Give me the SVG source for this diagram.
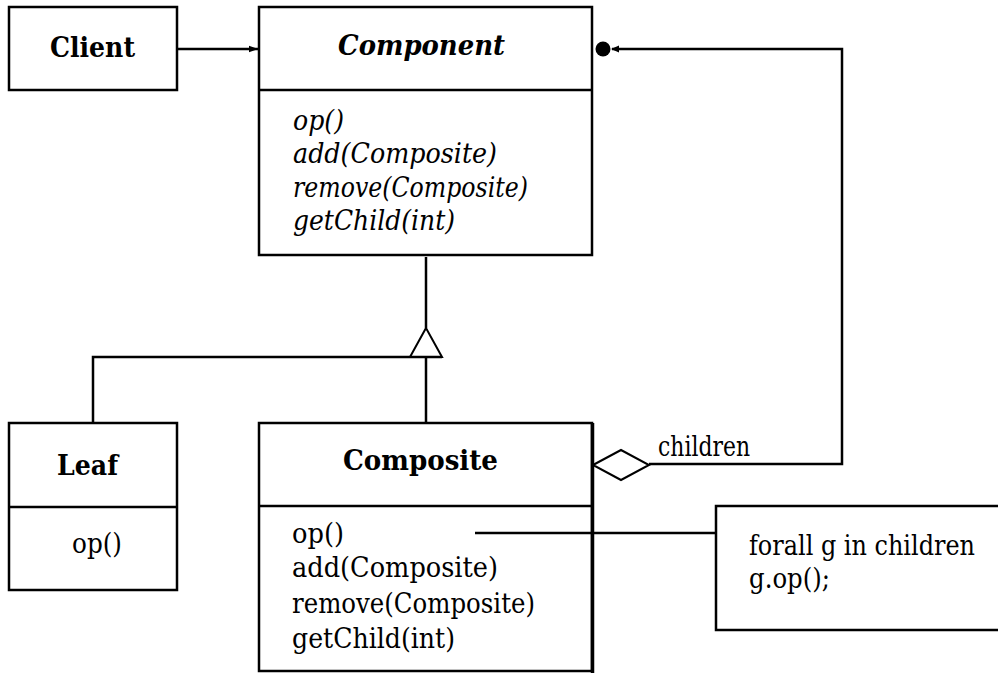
<svg xmlns="http://www.w3.org/2000/svg" width="998" height="673" viewBox="0 0 998 673">
  <style>
    .box { fill: #fff; stroke: #000; stroke-width: 2.5; }
    .div { stroke: #000; stroke-width: 2.5; }
    .ln { fill: none; stroke: #000; stroke-width: 2.5; }
    .t { font-family: 'DejaVu Serif', 'Liberation Serif', serif; font-size: 27px; fill: #000; }
    .b { font-weight: bold; }
    .i { font-style: italic; }
  </style>
  <defs>
    <marker id="arrow" markerUnits="userSpaceOnUse" markerWidth="10" markerHeight="8" refX="9" refY="4" orient="auto">
      <path d="M0,0.8 L9,4 L0,7.2 Z" fill="#000"/>
    </marker>
  </defs>

  <g id="client">
    <rect class="box" x="9" y="7" width="168" height="83"/>
    <text class="t b" x="50" y="57" textLength="85" lengthAdjust="spacingAndGlyphs">Client</text>
  </g>

  <g id="component">
    <rect class="box" x="259" y="7" width="333" height="248"/>
    <line class="div" x1="259" y1="90" x2="592" y2="90"/>
    <text class="t b i" x="338" y="55" textLength="167" lengthAdjust="spacingAndGlyphs">Component</text>
    <text class="t i" x="293" y="130" textLength="51" lengthAdjust="spacingAndGlyphs">op()</text>
    <text class="t i" x="293" y="163" textLength="204" lengthAdjust="spacingAndGlyphs">add(Composite)</text>
    <text class="t i" x="293" y="196.5" textLength="235" lengthAdjust="spacingAndGlyphs">remove(Composite)</text>
    <text class="t i" x="293" y="230" textLength="162" lengthAdjust="spacingAndGlyphs">getChild(int)</text>
  </g>

  <g id="leaf">
    <rect class="box" x="9" y="423" width="168" height="167"/>
    <line class="div" x1="9" y1="507" x2="177" y2="507"/>
    <text class="t b" x="57" y="475" textLength="61" lengthAdjust="spacingAndGlyphs">Leaf</text>
    <text class="t" x="72" y="553" textLength="50" lengthAdjust="spacingAndGlyphs">op()</text>
  </g>

  <g id="composite">
    <rect class="box" x="259" y="423" width="333" height="248"/>
    <line x1="592.5" y1="423" x2="592.5" y2="673" stroke="#000" stroke-width="3.5"/>
    <line class="div" x1="259" y1="506" x2="592" y2="506"/>
    <text class="t b" x="343" y="470" textLength="155" lengthAdjust="spacingAndGlyphs">Composite</text>
    <text class="t" x="292" y="542.5" textLength="52" lengthAdjust="spacingAndGlyphs">op()</text>
    <text class="t" x="292" y="577" textLength="206" lengthAdjust="spacingAndGlyphs">add(Composite)</text>
    <text class="t" x="292" y="612.5" textLength="243" lengthAdjust="spacingAndGlyphs">remove(Composite)</text>
    <text class="t" x="292" y="648" textLength="163" lengthAdjust="spacingAndGlyphs">getChild(int)</text>
  </g>

  <!-- note box runs off the right-hand edge, so only three sides show -->
  <g id="note">
    <polyline class="ln" points="998,506 716,506 716,630 998,630"/>
    <text class="t" x="749" y="555" textLength="226" lengthAdjust="spacingAndGlyphs">forall g in children</text>
    <text class="t" x="749" y="588" textLength="81" lengthAdjust="spacingAndGlyphs">g.op();</text>
  </g>

  <!-- connectors, drawn above the boxes -->
  <g id="connectors">
    <!-- Client uses Component -->
    <line class="ln" x1="178" y1="49" x2="258" y2="49" stroke-width="1.8" marker-end="url(#arrow)"/>
    <!-- generalisation -->
    <line class="ln" x1="426" y1="257" x2="426" y2="328"/>
    <polygon points="426,328 410,357 442,357" fill="#fff" stroke="#000" stroke-width="2"/>
    <polyline class="ln" points="93,422 93,357 442,357"/>
    <line class="ln" x1="426" y1="357" x2="426" y2="422"/>
    <!-- children aggregation -->
    <polygon points="593,465 621,450 649,465 621,480" fill="#fff" stroke="#000" stroke-width="2"/>
    <polyline class="ln" points="649,464 842,464 842,49 612,49" stroke-width="3"/>
    <path d="M611,49 L619,45.5 L619,52.5 Z" fill="#000"/>
    <circle cx="603" cy="49" r="7.5" fill="#000"/>
    <text class="t" x="658" y="456" font-size="20" textLength="92" lengthAdjust="spacingAndGlyphs">children</text>
    <!-- note link -->
    <line class="ln" x1="475" y1="533" x2="716" y2="533" stroke-width="2"/>
  </g>
</svg>
